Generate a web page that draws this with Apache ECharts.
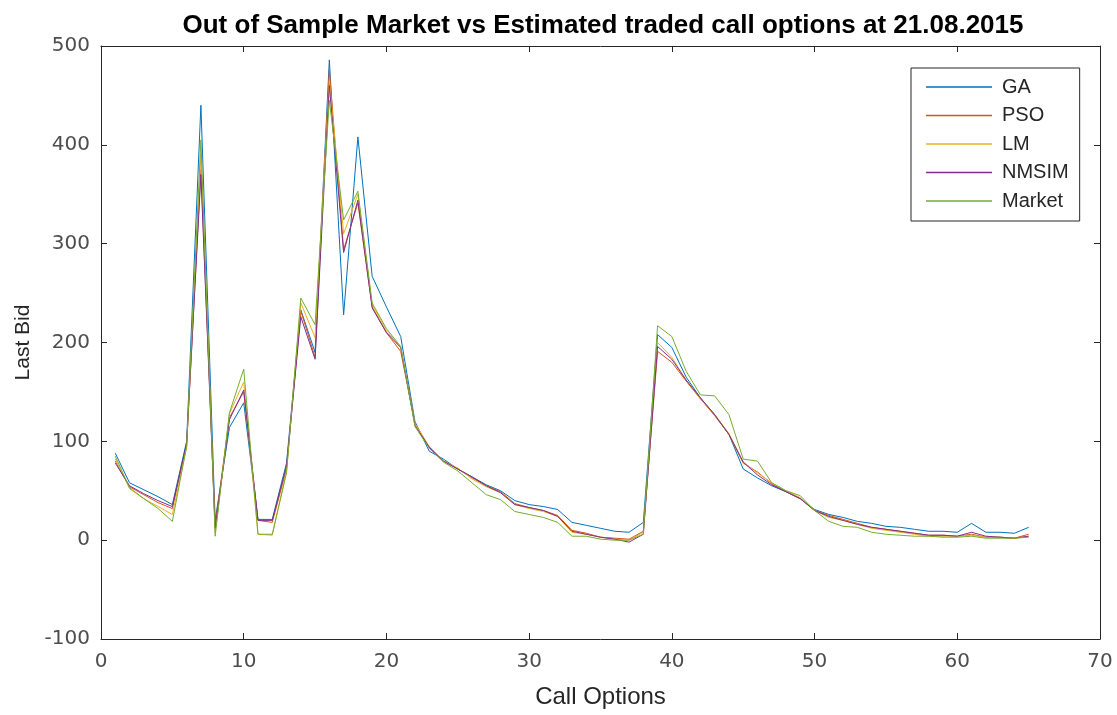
<!DOCTYPE html>
<html>
<head>
<meta charset="utf-8">
<script src="https://cdn.jsdelivr.net/npm/echarts@6/dist/echarts.min.js"></script>
<style>html,body{margin:0;padding:0;background:#fff;}#c{width:1117px;height:715px;}</style>
</head>
<body>
<div id="c"></div>
<script>
const callOptions = Array.from({length: 65}, (_, i) => i + 1);
const GA = [88,58,51,44,36,100,440,20,114,139,21,21,78,233,190,486,228,408,267,236,206,120,90,82,72,64,56,50,40,36,34,31,18,15,12,9,8,18,208,195,165,144,127,107,72,63,55,49,42,31,26,23,19,17,14,13,11,9,9,8,17,8,8,7,13];
const PSO = [80,54,46,38,32,96,375,15,124,150,20,18,72,232,185,476,294,341,236,210,191,118,94,80,72,63,55,49,37,33,30,25,10,7,3,2,1,9,191,180,161,143,126,107,78,69,57,49,42,30,25,21,17,13,11,9,7,5,5,4,6,3,3,2,6];
const LM = [82,52,42,34,26,94,390,8,128,160,6,5,70,240,205,465,310,350,238,212,195,118,95,80,73,62,54,48,36,32,29,24,8,6,3,1,0,8,200,185,162,143,127,108,79,68,58,50,43,30,23,20,16,12,10,8,6,4,4,4,5,3,3,2,4];
const NMSIM = [78,55,47,40,34,98,370,12,122,152,20,20,75,226,183,460,291,344,235,210,195,116,94,80,72,64,55,48,36,33,30,24,9,6,3,1,-2,6,196,183,162,144,127,107,79,66,56,49,42,30,24,20,16,13,11,9,7,5,5,4,8,4,3,2,4];
const Market = [85,53,42,32,19,95,405,4,129,173,6,6,68,245,218,445,324,353,240,214,196,115,93,79,70,58,46,41,29,26,23,18,4,4,1,0,0,6,217,206,171,147,146,127,82,80,58,50,45,30,19,14,13,8,6,5,4,4,3,3,4,2,2,2,3];
const xTicks = [0,10,20,30,40,50,60,70];
const yTicks = [-100,0,100,200,300,400,500];
const seriesNames = ['GA','PSO','LM','NMSIM','Market'];
const seriesData = [GA, PSO, LM, NMSIM, Market];
const colors = ['#0072BD','#D95319','#EDB120','#7E2F8E','#77AC30'];

const chart = echarts.init(document.getElementById('c'));
const font = 'Liberation Sans, Arial, sans-serif';
const tickFont = 'DejaVu Sans, sans-serif';
const axisCommon = {
  axisLine: {show: true, onZero: false, lineStyle: {color: '#262626', width: 1}},
  axisTick: {show: true, inside: true, length: 6, lineStyle: {color: '#262626'}},
  splitLine: {show: false}
};
const xBase = {type: 'value', min: xTicks[0], max: xTicks[xTicks.length-1], interval: 10};
const yBase = {type: 'value', min: yTicks[0], max: yTicks[yTicks.length-1], interval: 100};
chart.setOption({
  animation: false,
  backgroundColor: '#fff',
  color: colors,
  title: {
    text: 'Out of Sample Market vs Estimated traded call options at 21.08.2015',
    left: 598, textAlign: 'center', top: 8,
    textStyle: {fontFamily: font, fontSize: 26, fontWeight: 'bold', color: '#000'}
  },
  legend: {
    orient: 'vertical', left: 911, top: 68,
    padding: [9, 11, 10, 15],
    borderColor: '#262626', borderWidth: 1, backgroundColor: '#fff',
    icon: 'rect', itemWidth: 66, itemHeight: 1.5, itemGap: 8.5,
    textStyle: {fontFamily: font, fontSize: 20, color: '#262626', lineHeight: 20, padding: [0, 0, 0, 5]},
    data: seriesNames
  },
  grid: {left: 101, right: 17, top: 46, bottom: 76, containLabel: false},
  xAxis: [
    Object.assign({}, xBase, axisCommon, {
      position: 'bottom',
      name: 'Call Options', nameLocation: 'middle', nameGap: 46,
      nameTextStyle: {fontFamily: font, fontSize: 24, color: '#262626'},
      axisLabel: {fontFamily: tickFont, fontSize: 20, color: '#4d4d4d', margin: 13,
        formatter: v => xTicks.includes(v) ? String(v) : ''}
    }),
    Object.assign({}, xBase, axisCommon, {position: 'top', axisLabel: {show: false}})
  ],
  yAxis: [
    Object.assign({}, yBase, axisCommon, {
      position: 'left',
      name: 'Last Bid', nameLocation: 'middle', nameGap: 66,
      nameTextStyle: {fontFamily: font, fontSize: 21, color: '#262626'},
      axisLabel: {fontFamily: tickFont, fontSize: 20, color: '#4d4d4d', margin: 11,
        formatter: v => yTicks.includes(v) ? String(v) : ''}
    }),
    Object.assign({}, yBase, axisCommon, {position: 'right', axisLabel: {show: false}})
  ],
  series: seriesNames.map((name, k) => ({
    name: name,
    type: 'line',
    xAxisIndex: 0, yAxisIndex: 0,
    showSymbol: false, symbol: 'none',
    lineStyle: {width: 1, color: colors[k]},
    itemStyle: {color: colors[k]},
    data: callOptions.map((x, i) => [x, seriesData[k][i]])
  }))
});
</script>
</body>
</html>
